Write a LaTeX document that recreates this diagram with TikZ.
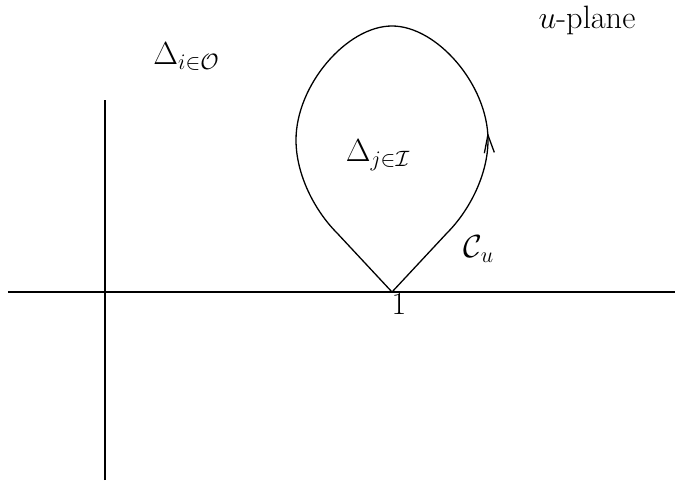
\documentclass[tikz,border=0pt]{standalone}
\usepackage{amsmath}
\usetikzlibrary{decorations.markings,arrows.meta}

\begin{document}
\begin{tikzpicture}[
    axis/.style={line width=1pt},
    contour/.style={line width=0.7pt},
    lbl/.style={font=\fontsize{17.5}{21}\selectfont}
  ]
    % u-plane with contour around the inner domain
    \useasboundingbox (-1.995, -3.686) rectangle (10.83, 5.548);

    % Axes
    \coordinate (xl) at (-1.843, 0);
    \coordinate (xr) at (10.83, 0);
    \coordinate (yb) at (0, -3.572);
    \coordinate (yt) at (0, 3.648);
    \draw[axis] (xl) -- (xr);
    \draw[axis] (yb) -- (yt);

    % Contour C_u through the point 1
    \coordinate (one) at (5.453, 0);
    \coordinate (rlow) at (6.498, 1.121);
    \coordinate (cright) at (7.277, 2.888);
    \coordinate (ctop) at (5.453, 5.054);
    \coordinate (cleft) at (3.629, 2.888);
    \coordinate (llow) at (4.408, 1.121);
    \draw[contour, decoration={markings, mark=at position 3.65cm with {\arrow{Straight Barb[length=3.4mm, width=1.9mm]}}}, postaction={decorate}]
        (one) -- (rlow)
        .. controls (6.916, 1.539) and (7.277, 2.223) .. (cright)
        .. controls (7.277, 3.933) and (6.308, 5.054) .. (ctop)
        .. controls (4.598, 5.054) and (3.629, 3.933) .. (cleft)
        .. controls (3.629, 2.223) and (3.990, 1.539) .. (llow)
        -- (one);

    % Labels
    \node[lbl, below, inner sep=1pt] (onelabel) at (5.586, 0) {$1$};
    \node[lbl] (inner) at (5.187, 2.603) {$\Delta_{j\in\mathcal{I}}$};
    \node[lbl] (contour) at (7.106, 0.817) {$\mathcal{C}_u$};
    \node[lbl] (outer) at (1.549, 4.47) {$\Delta_{i\in\mathcal{O}}$};
    \node[lbl] (plane) at (9.158, 5.168) {$u$-plane};
\end{tikzpicture}
\end{document}
